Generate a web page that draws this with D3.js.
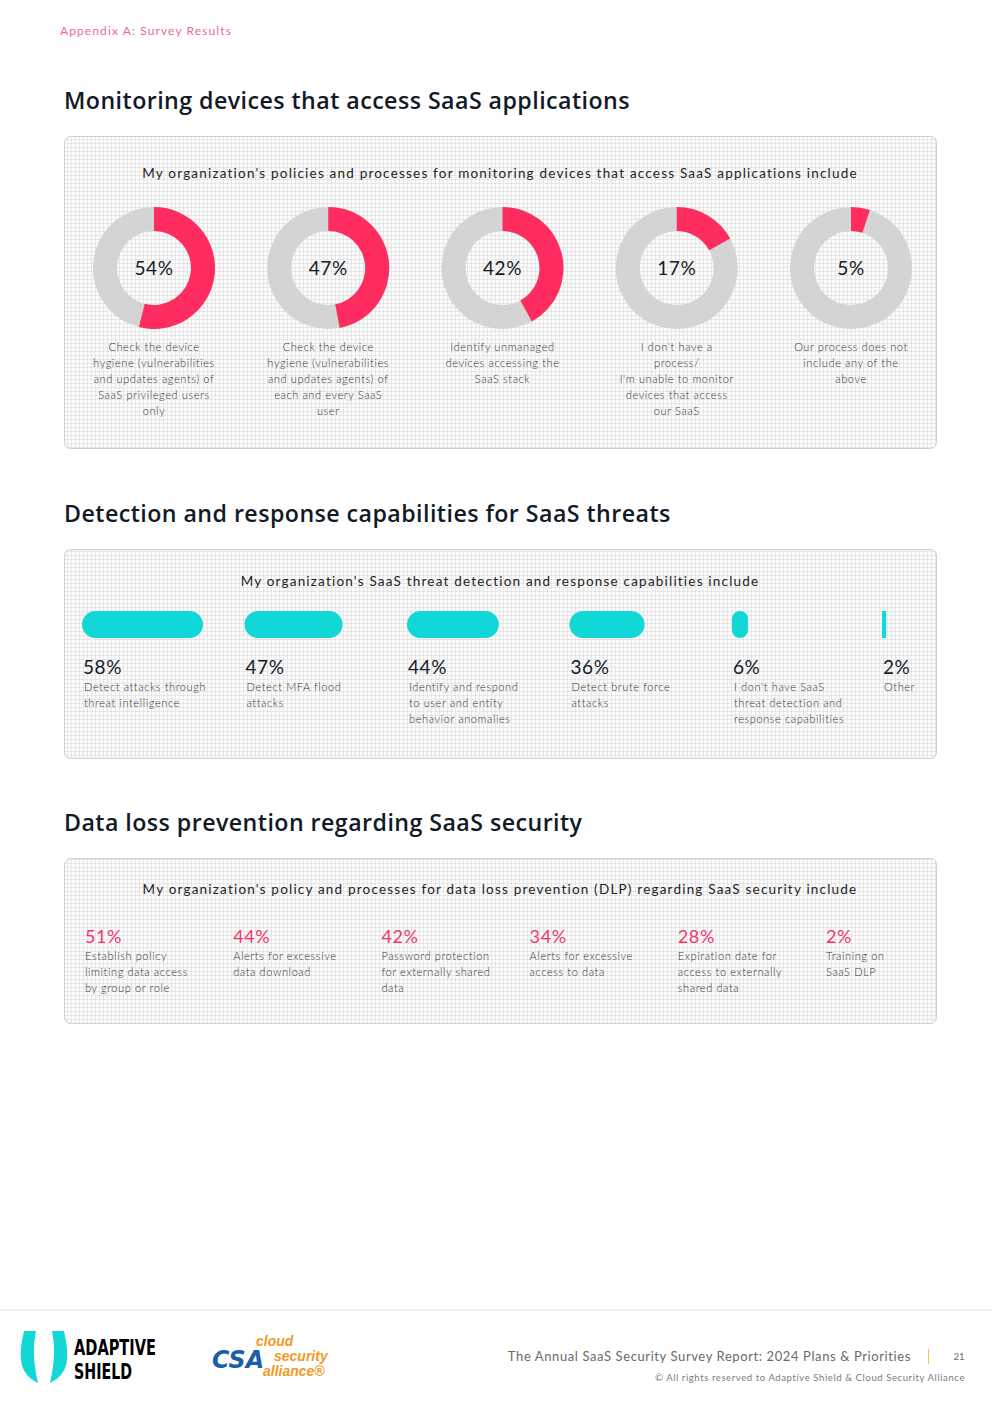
<!DOCTYPE html>
<html>
<head>
<meta charset="utf-8">
<script src="https://cdn.jsdelivr.net/npm/d3@7"></script>
<style>
  body { margin:0; background:#fff; }
  svg text { font-family: Lato, "Open Sans", sans-serif; }
</style>
</head>
<body>
<div id="page"></div>
<script>
// survey numbers
var monitorLabels = [
  "Check the device|hygiene (vulnerabilities|and updates agents) of|SaaS privileged users|only",
  "Check the device|hygiene (vulnerabilities|and updates agents) of|each and every SaaS|user",
  "Identify unmanaged|devices accessing the|SaaS stack",
  "I don't have a|process/|I'm unable to monitor|devices that access|our SaaS",
  "Our process does not|include any of the|above"
];
var monitorValues = [54, 47, 42, 17, 5];

var detectLabels = [
  "Detect attacks through|threat intelligence",
  "Detect MFA flood|attacks",
  "Identify and respond|to user and entity|behavior anomalies",
  "Detect brute force|attacks",
  "I don't have SaaS|threat detection and|response capabilities",
  "Other"
];
var detectValues = [58, 47, 44, 36, 6, 2];

var dlpLabels = [
  "Establish policy|limiting data access|by group or role",
  "Alerts for excessive|data download",
  "Password protection|for externally shared|data",
  "Alerts for excessive|access to data",
  "Expiration date for|access to externally|shared data",
  "Training on|SaaS DLP"
];
var dlpValues = [51, 44, 42, 34, 28, 2];

var headings = [
  "Monitoring devices that access SaaS applications",
  "Detection and response capabilities for SaaS threats",
  "Data loss prevention regarding SaaS security"
];
var questions = [
  "My organization's policies and processes for monitoring devices that access SaaS applications include",
  "My organization's SaaS threat detection and response capabilities include",
  "My organization's policy and processes for data loss prevention (DLP) regarding SaaS security include"
];

var W = 992, H = 1403;
var pink = "#ff2d5f", grey = "#d4d4d4", cyan = "#12d7d7", ink = "#111a26", body = "#333";
var bodySpacing = "0.6px";

var svg = d3.select("#page").append("svg")
    .attr("width", W)
    .attr("height", H);

// graph-paper fill for the panels
var defs = svg.append("defs");
var pat = defs.append("pattern")
    .attr("id", "grid")
    .attr("width", 4).attr("height", 4)
    .attr("patternUnits", "userSpaceOnUse");
pat.append("rect").attr("width", 4).attr("height", 4).attr("fill", "#fbfbfb");
pat.append("path").attr("d", "M4 0 V4 M0 4 H4")
    .attr("stroke", "#d6d6d6").attr("stroke-width", 1).attr("fill", "none");

svg.append("text")
    .attr("x", 60).attr("y", 35)
    .style("font-size", "12px")
    .style("letter-spacing", "1.1px")
    .style("fill", "#ec6a92")
    .text("Appendix A: Survey Results");

var panelTops = [136, 549, 858], panelBottoms = [448, 758, 1023];
var questionY = [178, 586, 894];

headings.forEach(function(h, i) {
  svg.append("text")
      .attr("x", 64).attr("y", panelTops[i] - 27)
      .style("font-family", "'Open Sans', sans-serif")
      .style("font-size", "23.2px")
      .style("font-weight", 600)
      .style("letter-spacing", "0.45px")
      .style("fill", ink)
      .text(h);

  svg.append("rect")
      .attr("x", 64.5).attr("y", panelTops[i] + 0.5)
      .attr("width", 872).attr("height", panelBottoms[i] - panelTops[i])
      .attr("rx", 6)
      .attr("fill", "url(#grid)")
      .attr("stroke", "#cfcfcf");

  svg.append("text")
      .attr("x", 500).attr("y", questionY[i])
      .attr("text-anchor", "middle")
      .style("font-size", "13.5px")
      .style("letter-spacing", "1.2px")
      .style("fill", "#222")
      .text(questions[i]);
});

function wrapLines(sel, str, lh) {
  str.split("|").forEach(function(line, k) {
    sel.append("tspan").attr("x", sel.attr("x")).attr("dy", k ? lh : 0).text(line);
  });
}

// ---- donuts
var tau = 2 * Math.PI;
var donutX = d3.scalePoint().domain(d3.range(monitorValues.length)).range([154, 851]);
var angle = d3.scaleLinear().domain([0, 100]).range([0, tau]);
var arc = d3.arc().innerRadius(37).outerRadius(61).startAngle(0);

var donuts = svg.append("g").selectAll("g")
    .data(monitorValues)
  .join("g")
    .attr("transform", function(d, i) { return "translate(" + donutX(i) + ",268)"; });

donuts.append("path")
    .attr("d", arc({endAngle: tau}))
    .attr("fill", grey);
donuts.append("path")
    .attr("d", function(d) { return arc({endAngle: angle(d)}); })
    .attr("fill", pink);
donuts.append("text")
    .attr("text-anchor", "middle")
    .attr("dy", "0.36em")
    .style("font-size", "19px")
    .style("letter-spacing", "0.6px")
    .style("fill", ink)
    .text(function(d) { return d + "%"; });
donuts.each(function(d, i) {
  var t = d3.select(this).append("text")
      .attr("x", 0).attr("y", 83)
      .attr("text-anchor", "middle")
      .style("font-size", "11px")
      .style("font-weight", 300)
      .style("letter-spacing", bodySpacing)
      .style("fill", body);
  wrapLines(t, monitorLabels[i], 16);
});

// ---- pill bars
var barX = d3.scaleLinear().domain([0, 4, 5]).range([82, 732, 882]);
var barW = d3.scaleLinear().domain([0, 58]).range([0, 121]);
var barH = 27;

var cols = svg.append("g").selectAll("g")
    .data(detectValues)
  .join("g")
    .attr("transform", function(d, i) { return "translate(" + barX(i) + ",611)"; });

cols.append("rect")
    .attr("width", function(d) { return Math.max(barW(d), d > 3 ? 16 : 0); })
    .attr("height", barH)
    .attr("rx", function(d) { return d > 3 ? Math.min(barH / 2, Math.max(barW(d), 16) / 2) : 0; })
    .attr("fill", cyan);
cols.append("text")
    .attr("x", 1).attr("y", 63)
    .style("font-size", "19px")
    .style("letter-spacing", "0.6px")
    .style("fill", ink)
    .text(function(d) { return d + "%"; });
cols.each(function(d, i) {
  var t = d3.select(this).append("text")
      .attr("x", 2).attr("y", 80)
      .style("font-size", "11px")
      .style("font-weight", 300)
      .style("letter-spacing", bodySpacing)
      .style("fill", body);
  wrapLines(t, detectLabels[i], 16);
});

// ---- DLP figures
var dlpX = d3.scalePoint().domain(d3.range(dlpValues.length)).range([85, 826]);
var stats = svg.append("g").selectAll("g")
    .data(dlpValues)
  .join("g")
    .attr("transform", function(d, i) { return "translate(" + dlpX(i) + ",943)"; });
stats.append("text")
    .style("font-size", "18px")
    .style("letter-spacing", "0.6px")
    .style("fill", "#f0386b")
    .text(function(d) { return d + "%"; });
stats.each(function(d, i) {
  var t = d3.select(this).append("text")
      .attr("x", 0).attr("y", 17)
      .style("font-size", "11px")
      .style("font-weight", 300)
      .style("letter-spacing", bodySpacing)
      .style("fill", body);
  wrapLines(t, dlpLabels[i], 16);
});

// ---- footer
svg.append("line")
    .attr("x1", 0).attr("x2", W).attr("y1", 1310).attr("y2", 1310)
    .attr("stroke", "#f3d9e0");

// adaptive shield mark
var logo = svg.append("g");
logo.append("path")
    .attr("d", "M24 1331 L36 1331 C33 1345 33 1362 38 1383 C30 1379 22 1372 21 1360 C20 1350 22 1340 24 1331 Z")
    .attr("fill", cyan);
logo.append("path")
    .attr("d", "M64 1331 L52 1331 C55 1345 55 1362 50 1383 C58 1379 66 1372 67 1360 C68 1350 66 1340 64 1331 Z")
    .attr("fill", cyan);
logo.append("text").attr("x", 74).attr("y", 1355)
    .attr("textLength", 82).attr("lengthAdjust", "spacingAndGlyphs")
    .style("font-family", "'Liberation Sans Narrow', 'DejaVu Sans Condensed', sans-serif")
    .style("font-weight", 700).style("font-size", "22px").style("fill", "#000")
    .text("ADAPTIVE");
logo.append("text").attr("x", 74).attr("y", 1379)
    .attr("textLength", 58).attr("lengthAdjust", "spacingAndGlyphs")
    .style("font-family", "'Liberation Sans Narrow', 'DejaVu Sans Condensed', sans-serif")
    .style("font-weight", 700).style("font-size", "22px").style("fill", "#000")
    .text("SHIELD");

// csa mark
var csa = svg.append("g");
csa.append("text").attr("x", 212).attr("y", 1368)
    .attr("textLength", 52).attr("lengthAdjust", "spacingAndGlyphs")
    .style("font-family", "'DejaVu Sans', sans-serif")
    .style("font-weight", 700).style("font-style", "italic")
    .style("font-size", "25px").style("fill", "#1a5ea6")
    .text("CSA");
[["cloud", 256, 1346], ["security", 274, 1361], ["alliance®", 263, 1376]].forEach(function(w) {
  csa.append("text").attr("x", w[1]).attr("y", w[2])
      .style("font-family", "'Liberation Sans Narrow', sans-serif")
      .style("font-style", "italic").style("font-weight", 700)
      .style("font-size", "14px").style("fill", "#f29a1f")
      .text(w[0]);
});

svg.append("text")
    .attr("x", 911).attr("y", 1361)
    .attr("text-anchor", "end")
    .style("font-size", "13px")
    .style("letter-spacing", "0.6px")
    .style("fill", "#6a6a6a")
    .text("The Annual SaaS Security Survey Report: 2024 Plans & Priorities");
svg.append("line")
    .attr("x1", 928.5).attr("x2", 928.5).attr("y1", 1349).attr("y2", 1364)
    .attr("stroke", "#f4c25a");
svg.append("text")
    .attr("x", 959).attr("y", 1360)
    .attr("text-anchor", "middle")
    .style("font-size", "9.5px")
    .style("fill", "#6a6a6a")
    .text("21");
svg.append("text")
    .attr("x", 965).attr("y", 1381)
    .attr("text-anchor", "end")
    .style("font-size", "9.5px")
    .style("letter-spacing", "0.6px")
    .style("fill", "#7a7a7a")
    .text("© All rights reserved to Adaptive Shield & Cloud Security Alliance");
</script>
</body>
</html>
